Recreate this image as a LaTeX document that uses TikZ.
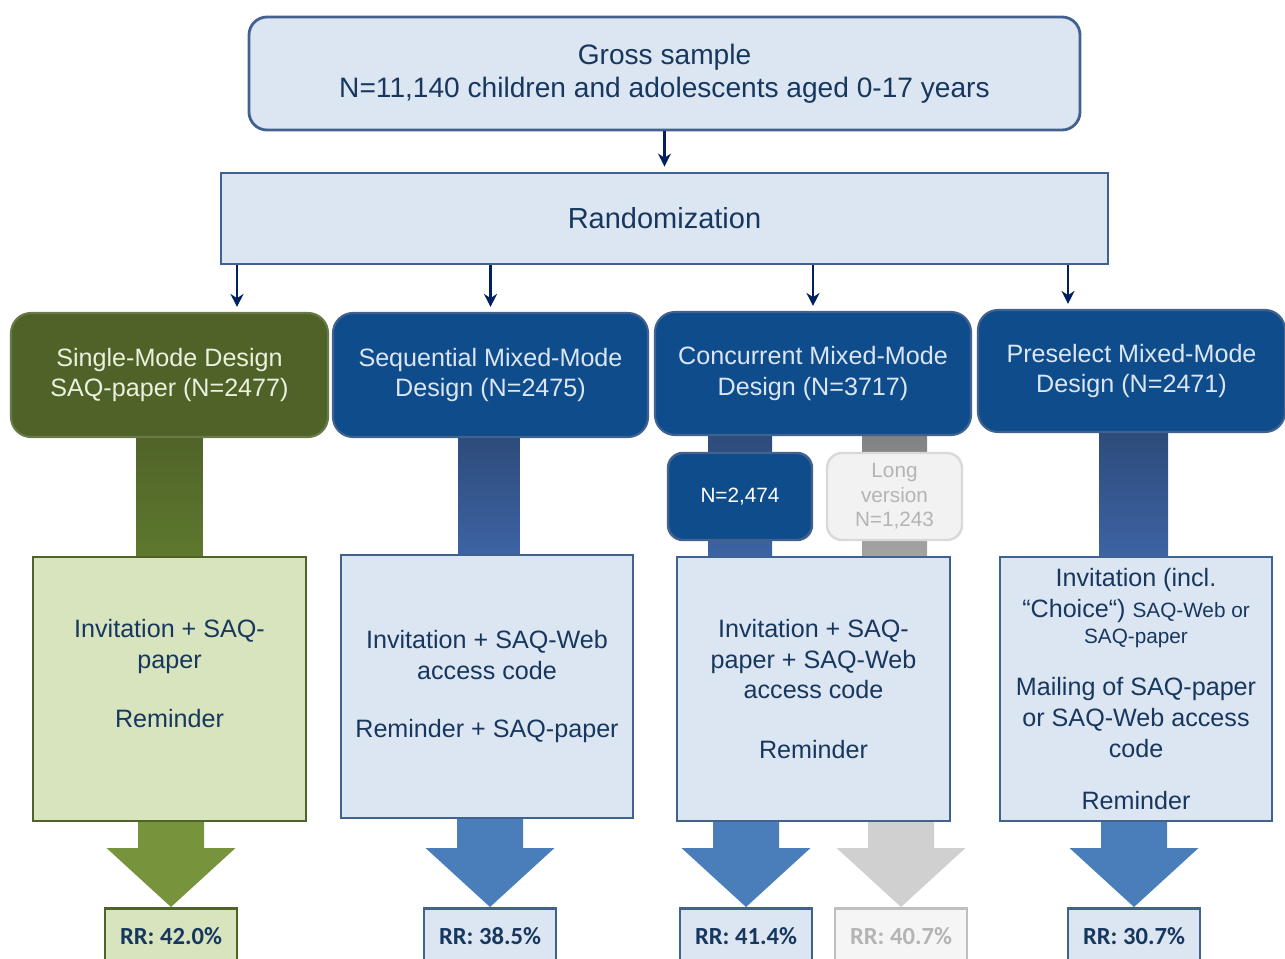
\documentclass[tikz,border=0pt]{standalone}
\usepackage{fontspec}
\setmainfont{Liberation Sans}
\newfontfamily\rrfont{Carlito}
\usetikzlibrary{arrows.meta,calc,backgrounds}
\definecolor{paleblue}{HTML}{DCE6F2}
\definecolor{palegreen}{HTML}{D7E4BD}
\definecolor{navytext}{HTML}{17375E}
\definecolor{navyarrow}{HTML}{002060}
\definecolor{frameblue}{HTML}{41618F}
\definecolor{deepblue}{HTML}{0F4C8C}
\definecolor{olive}{HTML}{4F6228}
\definecolor{creamtext}{HTML}{EBF1DE}
\definecolor{stemgreen}{HTML}{5F7A2E}
\definecolor{stemtop}{HTML}{2C4A78}
\definecolor{stembottom}{HTML}{3E65A6}
\definecolor{arrowgreen}{HTML}{77933C}
\definecolor{arrowblue}{HTML}{4A7EBB}
\definecolor{fadedgray}{HTML}{D0D0D0}
\definecolor{fadedtext}{HTML}{B4B4B4}
\newcommand\gsize{\fontsize{16pt}{19pt}\selectfont}
\newcommand\randsize{\fontsize{16.5pt}{19pt}\selectfont}
\newcommand\bsize{\fontsize{14.3pt}{17.6pt}\selectfont}
\newcommand\ssize{\fontsize{11.8pt}{13.9pt}\selectfont}
\newcommand\rrArrow[3]{%
  \fill[#3] ($(#1.south -| #2.north)+(-0.66,0)$) -- ($(#2.north)+(-0.66,1.18)$)
    -- ($(#2.north)+(-1.29,1.18)$) -- (#2.north) -- ($(#2.north)+(1.29,1.18)$)
    -- ($(#2.north)+(0.66,1.18)$) -- ($(#1.south -| #2.north)+(0.66,0)$) -- cycle;}
\tikzset{
  topbox/.style={draw=frameblue,line width=1.6pt,fill=paleblue,text=navytext,align=center,font=\gsize},
  designbox/.style={rounded corners=0.4cm,draw=frameblue,line width=1.2pt,fill=deepblue,text=paleblue,
    align=center,font=\bsize,minimum width=6.3cm,minimum height=2.48cm},
  procbox/.style={draw=frameblue,line width=1.4pt,fill=paleblue,text=navytext,align=center,font=\bsize,
    minimum width=5.46cm,minimum height=5.28cm},
  splitbox/.style={rounded corners=0.3cm,line width=1.4pt,align=center,font=\ssize,
    minimum width=2.8cm,minimum height=1.74cm},
  rrbox/.style={draw=frameblue,line width=1.6pt,fill=paleblue,text=navytext,anchor=north,
    font=\rrfont\bfseries\fontsize{14pt}{16pt}\selectfont,minimum width=2.64cm,minimum height=1.1cm},
  thinArrow/.style={-{Stealth[length=2.6mm,width=2.6mm]},line width=1.2pt,draw=navyarrow,shorten >=0.1cm}
}
\begin{document}
\begin{tikzpicture}
  \useasboundingbox (0,0) rectangle (25.7,-19.18);
  \node[topbox,rounded corners=0.36cm,minimum width=16.62cm,minimum height=2.26cm] (gross) at (13.29,-1.47)
    {Gross sample\\N=11,140 children and adolescents aged 0-17 years};
  \node[topbox,font=\randsize,minimum width=17.74cm,minimum height=1.82cm] (rand) at (13.29,-4.37) {Randomization};

  \node[designbox,fill=olive,draw=olive!85!white,text=creamtext,minimum width=6.34cm] (single) at (3.39,-7.5)
    {Single-Mode Design\\SAQ-paper (N=2477)};
  \node[designbox] (sequential) at (9.81,-7.5) {Sequential Mixed-Mode\\Design (N=2475)};
  \node[designbox,minimum width=6.32cm,minimum height=2.46cm] (concurrent) at (16.26,-7.47)
    {Concurrent Mixed-Mode\\Design (N=3717)};
  \node[designbox,minimum width=6.14cm,minimum height=2.44cm] (preselect) at (22.63,-7.42)
    {Preselect Mixed-Mode\\Design (N=2471)};

  \node[splitbox,fill=deepblue,draw=frameblue,text=white,minimum width=2.88cm] (shortC) at (14.8,-9.93) {N=2,474};
  \node[splitbox,fill=black!5,draw=black!15,text=fadedtext,minimum width=2.7cm] (longC) at (17.89,-9.93)
    {Long\\version\\N=1,243};

  \node[procbox,fill=palegreen,draw=olive] (procSingle) at (3.39,-13.78)
    {Invitation + SAQ-\\paper\\[0.55cm]Reminder\\[0pt]\mbox{}};
  \node[procbox,minimum width=5.84cm,minimum height=5.26cm] (procSeq) at (9.74,-13.73)
    {Invitation + SAQ-Web\\access code\\[0.56cm]Reminder + SAQ-paper};
  \node[procbox] (procConc) at (16.27,-13.78)
    {Invitation + SAQ-\\paper + SAQ-Web\\access code\\[0.58cm]Reminder};
  \node[procbox,minimum width=5.44cm] (procPre) at (22.72,-13.78)
    {Invitation (incl.\\“Choice“) {\ssize SAQ-Web or}\\[-0.1cm]{\ssize SAQ-paper}\\[0.42cm]Mailing of SAQ-paper\\or SAQ-Web access\\code\\[0.42cm]Reminder};

  \node[rrbox,fill=palegreen,draw=olive] (rrSingle) at (3.42,-18.14) {RR: 42.0\%};
  \node[rrbox] (rrSeq) at (9.8,-18.14) {RR: 38.5\%};
  \node[rrbox] (rrConcShort) at (14.92,-18.14) {RR: 41.4\%};
  \node[rrbox,fill=black!4,draw=black!25,text=fadedtext] (rrConcLong) at (18.02,-18.14) {RR: 40.7\%};
  \node[rrbox] (rrPre) at (22.68,-18.14) {RR: 30.7\%};

  \draw[thinArrow] (gross) -- (rand);
  \draw[thinArrow] ([xshift=1.35cm]single.north |- rand.south) -- ([xshift=1.35cm]single.north);
  \draw[thinArrow] (sequential.north |- rand.south) -- (sequential.north);
  \draw[thinArrow] (concurrent.north |- rand.south) -- (concurrent.north);
  \draw[thinArrow] ([xshift=-1.27cm]preselect.north |- rand.south) -- ([xshift=-1.27cm]preselect.north);

  \begin{scope}[on background layer]
    \shade[top color=olive,bottom color=stemgreen] ($(single.south)+(-0.66,0.2)$) rectangle ($(procSingle.north)+(0.66,-0.2)$);
    \shade[top color=stemtop,bottom color=stembottom] ($(sequential.south)+(-0.65,0.2)$) rectangle ($(procSeq.north)+(0.65,-0.2)$);
    \shade[top color=stemtop,bottom color=stembottom] ($(concurrent.south -| shortC)+(-0.64,0.2)$) rectangle ($(procConc.north -| shortC)+(0.64,-0.2)$);
    \shade[top color=black!50,bottom color=black!35] ($(concurrent.south -| longC)+(-0.65,0.2)$) rectangle ($(procConc.north -| longC)+(0.65,-0.2)$);
    \shade[top color=stemtop,bottom color=stembottom] ($(preselect.south)+(-0.64,0.2)$) rectangle ($(procPre.north)+(0.64,-0.2)$);
  \end{scope}

  \rrArrow{procSingle}{rrSingle}{arrowgreen}
  \rrArrow{procSeq}{rrSeq}{arrowblue}
  \rrArrow{procConc}{rrConcShort}{arrowblue}
  \rrArrow{procConc}{rrConcLong}{fadedgray}
  \rrArrow{procPre}{rrPre}{arrowblue}
\end{tikzpicture}
\end{document}
